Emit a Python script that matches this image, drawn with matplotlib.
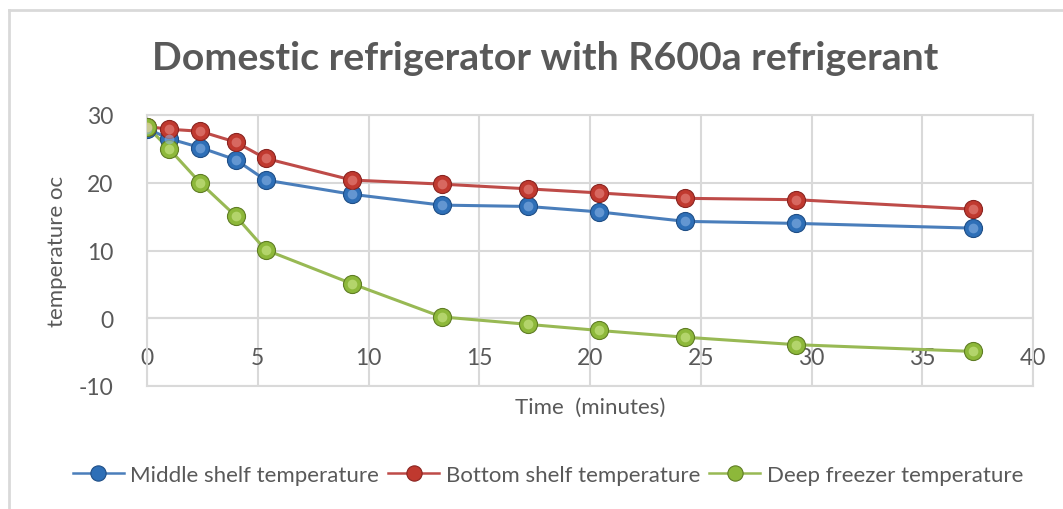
import numpy as np
import matplotlib
matplotlib.use('Agg')
import matplotlib.pyplot as plt
from matplotlib.lines import Line2D

plt.rcParams['font.family'] = ['Lato', 'DejaVu Sans']
plt.rcParams['axes.unicode_minus'] = False

# data
time_min = [0, 1, 2.4, 4, 5.35, 9.25, 13.3, 17.2, 20.4, 24.3, 29.3, 37.3]
middle_shelf = [28.0, 26.5, 25.2, 23.4, 20.4, 18.3, 16.7, 16.5, 15.7, 14.3, 14.0, 13.3]
bottom_shelf = [28.3, 27.9, 27.6, 26.0, 23.6, 20.4, 19.8, 19.1, 18.5, 17.7, 17.5, 16.1]
deep_freezer = [28.3, 25.0, 20.0, 15.1, 10.1, 5.1, 0.2, -0.9, -1.8, -2.8, -3.9, -4.9]

series = [
    ('Middle shelf temperature', middle_shelf, '#4a7ebb', '#2e6fb7', '#1f4e86', '#8fb8e8'),
    ('Bottom shelf temperature', bottom_shelf, '#be4b48', '#c0392f', '#8a2420', '#eb8f8a'),
    ('Deep freezer temperature', deep_freezer, '#98b954', '#8db83a', '#5f7d24', '#d3ec94'),
]

W, H = 1063, 510
fig = plt.figure(figsize=(W / 100, H / 100), dpi=100)
ax = fig.add_axes([147 / W, 1 - 387 / H, (1033 - 147) / W, (387 - 116) / H])

grid_c = '#d9d9d9'
handles = []
for name, vals, lc, mc, ec, hc in series:
    ax.plot(time_min, vals, '-', color=lc, lw=2.2, zorder=3)
    ax.plot(time_min, vals, 'o', ms=13, mfc=mc, mec=ec, mew=0.8, zorder=4)
    ax.plot(time_min, vals, 'o', ms=7, mfc=hc, mec='none', alpha=0.55, zorder=5)
    handles.append(Line2D([], [], color=lc, lw=1.8, marker='o', ms=11,
                          mfc=mc, mec=ec, mew=0.8))

ax.set_xlim(0, 40)
ax.set_ylim(-10, 30)
ax.set_xticks(np.arange(0, 41, 5))
ax.set_yticks(np.arange(-10, 31, 10))
ax.grid(True, color=grid_c, lw=1.5, zorder=0)
ax.set_axisbelow(True)
for s in ax.spines.values():
    s.set_color(grid_c)
    s.set_linewidth(1.5)
ax.spines['bottom'].set_position(('data', 0))
ax.axhline(-10, color=grid_c, lw=1.5, zorder=0, clip_on=False)
ax.tick_params(length=0, labelsize=16.5, colors='#595959')
ax.tick_params(axis='y', pad=24)
ax.tick_params(axis='x', pad=21)

fig.text(57 / W, 1 - 251 / H, 'temperature oc', rotation=90, ha='center', va='center',
         fontsize=16, color='#595959')
fig.text(590 / W, 1 - 408 / H, 'Time  (minutes)', ha='center', va='center',
         fontsize=16, color='#595959')
fig.text(545 / W, 1 - 58 / H, 'Domestic refrigerator with R600a refrigerant', ha='center',
         va='center', fontsize=28.3, fontweight='bold', color='#595959')

fig.legend(handles, [s[0] for s in series], loc='center', bbox_to_anchor=(548 / W, 1 - 476 / H),
           ncol=3, frameon=False, fontsize=16, handlelength=2.3, handletextpad=0.3,
           columnspacing=0.4, labelcolor='#595959')

# outer chart frame (left and top edges visible)
fig.add_artist(Line2D([9 / W, 9 / W], [0, 1 - 11 / H], color=grid_c, lw=2))
fig.add_artist(Line2D([9 / W, 1], [1 - 11 / H, 1 - 11 / H], color=grid_c, lw=2))

fig.savefig('out.png', dpi=100)
